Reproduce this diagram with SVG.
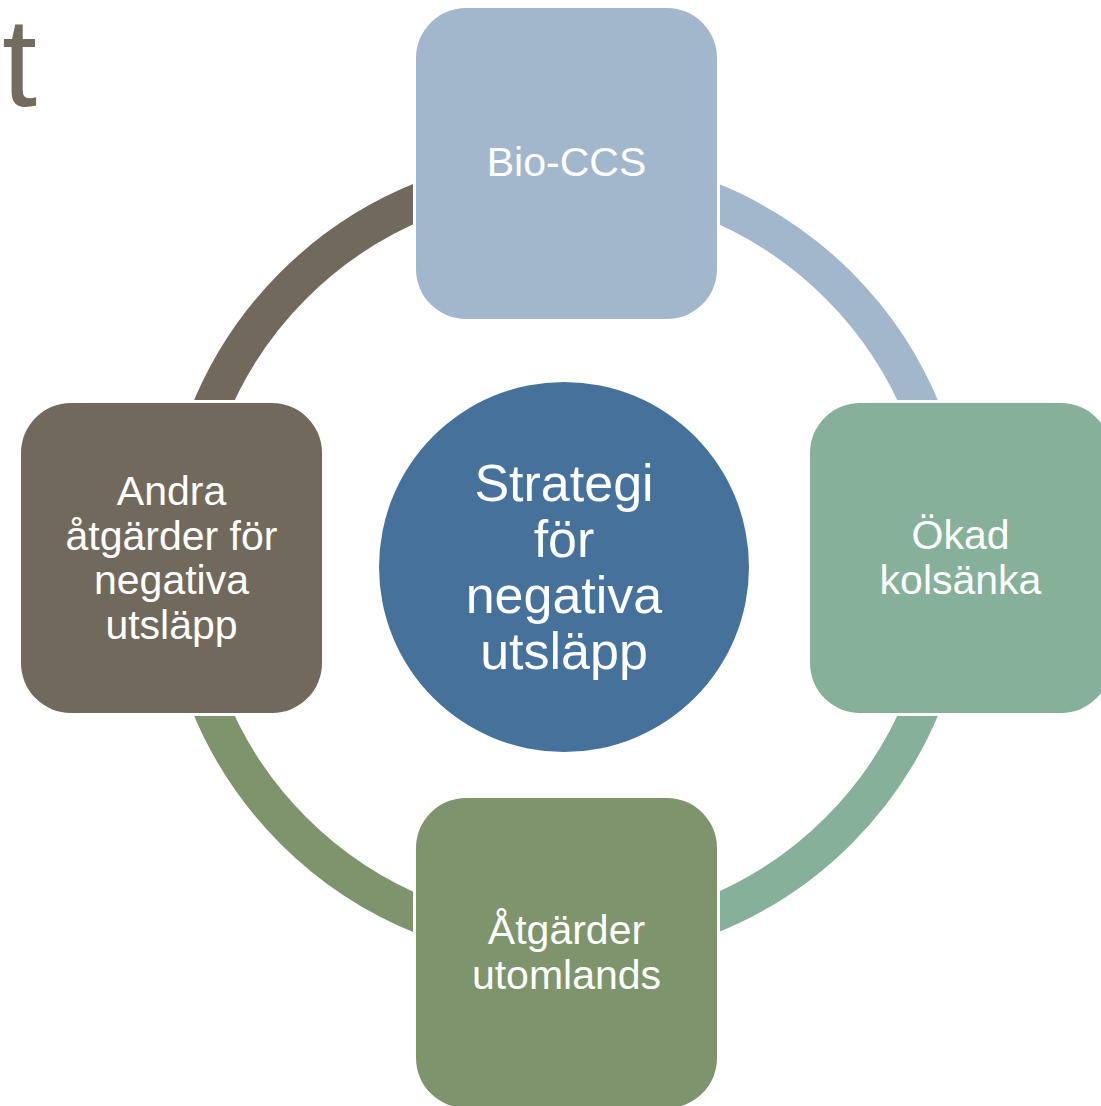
<svg xmlns="http://www.w3.org/2000/svg" width="1101" height="1106" viewBox="0 0 1101 1106">
<style>
.arc{fill:none;stroke-width:37}
.box{stroke:#ffffff;stroke-width:6;paint-order:stroke}
.lbl{font-family:"Liberation Sans",Arial,sans-serif;fill:#ffffff;text-anchor:middle;font-size:41px}
.ctr{font-family:"Liberation Sans",Arial,sans-serif;fill:#ffffff;text-anchor:middle;font-size:52px}
</style>
<rect width="1101" height="1106" fill="#ffffff"/>
<text x="2" y="106" font-family="Liberation Sans, Arial, sans-serif" font-size="126" fill="#726B5E">t</text>
<g id="connectors">
<path class="arc" stroke="#A2B7CB" d="M566 172.5 A385.5 385.5 0 0 1 951.5 558"/>
<path class="arc" stroke="#87B09B" d="M951.5 558 A385.5 385.5 0 0 1 566 943.5"/>
<path class="arc" stroke="#7E946D" d="M566 943.5 A385.5 385.5 0 0 1 180.5 558"/>
<path class="arc" stroke="#716A5C" d="M180.5 558 A385.5 385.5 0 0 1 566 172.5"/>
</g>
<g id="center">
<circle cx="564" cy="567" r="185" fill="#46719B"/>
<text class="ctr" x="564" y="501">Strategi</text>
<text class="ctr" x="564" y="557">för</text>
<text class="ctr" x="564" y="613">negativa</text>
<text class="ctr" x="564" y="669">utsläpp</text>
</g>
<g id="bio-ccs">
<rect class="box" x="416" y="8" width="301" height="311" rx="50" fill="#A2B7CB"/>
<text class="lbl" x="566.5" y="176">Bio-CCS</text>
</g>
<g id="okad-kolsanka">
<rect class="box" x="810" y="403" width="301" height="310" rx="50" fill="#87B09B"/>
<text class="lbl" x="960.5" y="549">Ökad</text>
<text class="lbl" x="960.5" y="594">kolsänka</text>
</g>
<g id="atgarder-utomlands">
<rect class="box" x="416" y="798" width="301" height="310" rx="50" fill="#7E946D"/>
<text class="lbl" x="566.5" y="944">Åtgärder</text>
<text class="lbl" x="566.5" y="989">utomlands</text>
</g>
<g id="andra-atgarder">
<rect class="box" x="21" y="403" width="301" height="310" rx="50" fill="#716A5C"/>
<text class="lbl" x="171.5" y="505">Andra</text>
<text class="lbl" x="171.5" y="550">åtgärder för</text>
<text class="lbl" x="171.5" y="594">negativa</text>
<text class="lbl" x="171.5" y="639">utsläpp</text>
</g>
</svg>
